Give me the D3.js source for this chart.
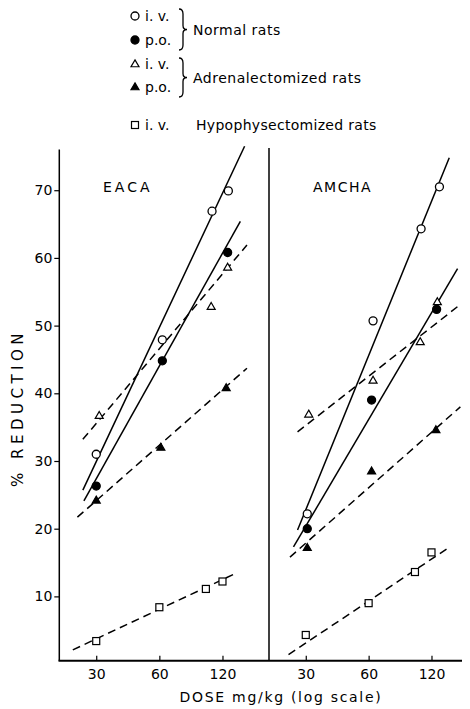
<!DOCTYPE html>
<html><head><meta charset="utf-8">
<script src="https://cdn.jsdelivr.net/npm/d3@7"></script>
<style>body{margin:0;background:#fff;} text{font-family:"DejaVu Sans",sans-serif;fill:#000;}</style>
</head><body>
<svg id="c" width="470" height="709"></svg>
<script>
// ---------- data ----------
const panels = ["EACA", "AMCHA"];
const xTicks = [30, 60, 120];
const yTicks = [10, 20, 30, 40, 50, 60, 70];
const seriesNames = ["ivNormal", "poNormal", "ivAdr", "poAdr", "ivHyp"];
const legendLabels = ["i. v.", "p.o.", "i. v.", "p.o.", "i. v."];
const groupLabels = ["Normal rats", "Adrenalectomized rats", "Hypophysectomized rats"];

// EACA points [dose, % reduction]
const eacaIvNormal = [[30, 31.0], [62, 47.9], [107, 66.9], [128, 69.9]];
const eacaPoNormal = [[30, 26.3], [62, 44.8], [127, 60.8]];
const eacaIvAdr    = [[31, 36.7], [106, 52.8], [127, 58.6]];
const eacaPoAdr    = [[30, 24.2], [61, 32.0], [125, 40.8]];
const eacaIvHyp    = [[30, 3.4], [60, 8.4], [100, 11.1], [120, 12.2]];
// EACA fitted lines [[dose0, val0], [dose1, val1]]
const eacaLines = [
  [[25.9, 25.7], [153, 76.5]],
  [[26.2, 24.1], [146, 65.4]],
  [[25.9, 33.2], [157, 61.9]],
  [[24.4, 21.7], [157, 43.7]],
  [[23.2, 2.1], [141, 13.5]]
];
// AMCHA points
const amchaIvNormal = [[30.5, 22.2], [63, 50.7], [107, 64.3], [131, 70.5]];
const amchaPoNormal = [[30.5, 20.0], [62, 39.0], [127, 52.4]];
const amchaIvAdr    = [[31, 36.9], [63, 41.9], [106, 47.6], [128, 53.5]];
const amchaPoAdr    = [[30.5, 17.2], [62, 28.5], [126, 34.6]];
const amchaIvHyp    = [[30, 4.3], [60, 9.0], [100, 13.6], [120, 16.5]];
const amchaLines = [
  [[27.4, 19.8], [146, 74.8]],
  [[26.2, 17.3], [160, 58.4]],
  [[27.4, 34.3], [160, 52.8]],
  [[25.2, 15.8], [165, 38.0]],
  [[24.8, 1.4], [145, 17.2]]
];

// ---------- styles ----------
const markerKind = {ivNormal: "circleOpen", poNormal: "circleFill", ivAdr: "triOpen", poAdr: "triFill", ivHyp: "square"};
const dashed = {ivNormal: false, poNormal: false, ivAdr: true, poAdr: true, ivHyp: true};

const svg = d3.select("#c");
const y = d3.scaleLinear().domain([0.5, 76]).range([660.7, 149.6]);
const xs = [
  d3.scaleLog().domain([20, 200]).range([59.3, 269]),
  d3.scaleLog().domain([20, 168]).range([269, 462])
];
const panelData = [
  [eacaIvNormal, eacaPoNormal, eacaIvAdr, eacaPoAdr, eacaIvHyp],
  [amchaIvNormal, amchaPoNormal, amchaIvAdr, amchaPoAdr, amchaIvHyp]
];
const panelLines = [eacaLines, amchaLines];

function marker(g, kind, cx, cy) {
  if (kind === "circleOpen" || kind === "circleFill") {
    g.append("circle").attr("cx", cx).attr("cy", cy).attr("r", 4)
      .attr("fill", kind === "circleFill" ? "#000" : "#fff").attr("stroke", "#000").attr("stroke-width", 1.3);
  } else if (kind === "triOpen" || kind === "triFill") {
    const s = 8, h = s * 0.866;
    g.append("path").attr("d", `M${cx},${cy - h * 0.6}L${cx + s / 2},${cy + h * 0.4}L${cx - s / 2},${cy + h * 0.4}Z`)
      .attr("fill", kind === "triFill" ? "#000" : "#fff").attr("stroke", "#000").attr("stroke-width", 1.2);
  } else {
    g.append("rect").attr("x", cx - 3.5).attr("y", cy - 3.5).attr("width", 7).attr("height", 7)
      .attr("fill", "#fff").attr("stroke", "#000").attr("stroke-width", 1.2);
  }
}

// axes frame
svg.append("line").attr("x1", 59.3).attr("x2", 59.3).attr("y1", y(76)).attr("y2", y(0.5)).attr("stroke", "#000").attr("stroke-width", 1.5);
svg.append("line").attr("x1", 269).attr("x2", 269).attr("y1", 148).attr("y2", y(0.5)).attr("stroke", "#000").attr("stroke-width", 1.5);
svg.append("line").attr("x1", 58.5).attr("x2", 462).attr("y1", y(0.5)).attr("y2", y(0.5)).attr("stroke", "#000").attr("stroke-width", 2);

// y axis
const yAxis = d3.axisLeft(y).tickValues(yTicks).tickSize(5).tickPadding(2).tickFormat(d3.format("d"));
const gy = svg.append("g").attr("transform", "translate(59.3,0)").call(yAxis);
gy.select(".domain").remove();
gy.selectAll("line").attr("stroke", "#000").attr("stroke-width", 1.2);
gy.selectAll("text").attr("font-size", 14).attr("font-family", "DejaVu Sans").attr("fill", "#000");

panels.forEach((name, p) => {
  const x = xs[p];
  const gx = svg.append("g").attr("transform", `translate(0,${y(0.5)})`)
    .call(d3.axisBottom(x).tickValues(xTicks).tickSize(-5).tickPadding(8).tickFormat(d3.format("d")));
  gx.select(".domain").remove();
  gx.selectAll("line").attr("stroke", "#000").attr("stroke-width", 1.2);
  gx.selectAll("text").attr("font-size", 14).attr("font-family", "DejaVu Sans").attr("fill", "#000");

  const line = d3.line().x(d => x(d[0])).y(d => y(d[1]));
  panelLines[p].forEach((ln, i) => {
    svg.append("path").attr("d", line(ln)).attr("fill", "none").attr("stroke", "#000")
      .attr("stroke-width", 1.5).attr("stroke-dasharray", dashed[seriesNames[i]] ? "8,5" : null);
  });
  const gm = svg.append("g");
  panelData[p].forEach((pts, i) => {
    pts.forEach(d => marker(gm, markerKind[seriesNames[i]], x(d[0]), y(d[1])));
  });
  svg.append("text").attr("x", p === 0 ? 103 : 313).attr("y", 192).attr("font-size", 14)
    .attr("letter-spacing", p === 0 ? 3 : 1.5).text(name);
});

// axis titles
svg.append("text").attr("transform", "translate(23,408) rotate(-90)").attr("text-anchor", "middle")
  .attr("font-size", 15).attr("letter-spacing", 4.5).text("% REDUCTION");
svg.append("text").attr("x", 281).attr("y", 702).attr("text-anchor", "middle")
  .attr("font-size", 14).attr("letter-spacing", 1.7).text("DOSE mg/kg (log scale)");

// legend
const legRows = [16, 40, 64, 87, 125];
const lg = svg.append("g");
seriesNames.forEach((s, i) => {
  marker(lg, markerKind[s], 135, legRows[i]);
  lg.append("text").attr("x", 145).attr("y", legRows[i] + 5).attr("font-size", 14).text(legendLabels[i]);
});
function brace(x0, y0, y1) {
  const ym = (y0 + y1) / 2;
  return `M${x0},${y0}Q${x0 + 4},${y0} ${x0 + 4},${y0 + 5}L${x0 + 4},${ym - 4}Q${x0 + 4},${ym} ${x0 + 8},${ym}` +
    `Q${x0 + 4},${ym} ${x0 + 4},${ym + 4}L${x0 + 4},${y1 - 5}Q${x0 + 4},${y1} ${x0},${y1}`;
}
lg.append("path").attr("d", brace(179, 9, 50)).attr("fill", "none").attr("stroke", "#000").attr("stroke-width", 1.3);
lg.append("path").attr("d", brace(179, 58, 97)).attr("fill", "none").attr("stroke", "#000").attr("stroke-width", 1.3);
lg.append("text").attr("x", 193).attr("y", 35).attr("font-size", 14).attr("letter-spacing", 0.5).text(groupLabels[0]);
lg.append("text").attr("x", 193).attr("y", 83).attr("font-size", 14).attr("letter-spacing", 0.5).text(groupLabels[1]);
lg.append("text").attr("x", 196).attr("y", 130).attr("font-size", 14).attr("letter-spacing", 0.3).text(groupLabels[2]);
</script>
</body></html>
